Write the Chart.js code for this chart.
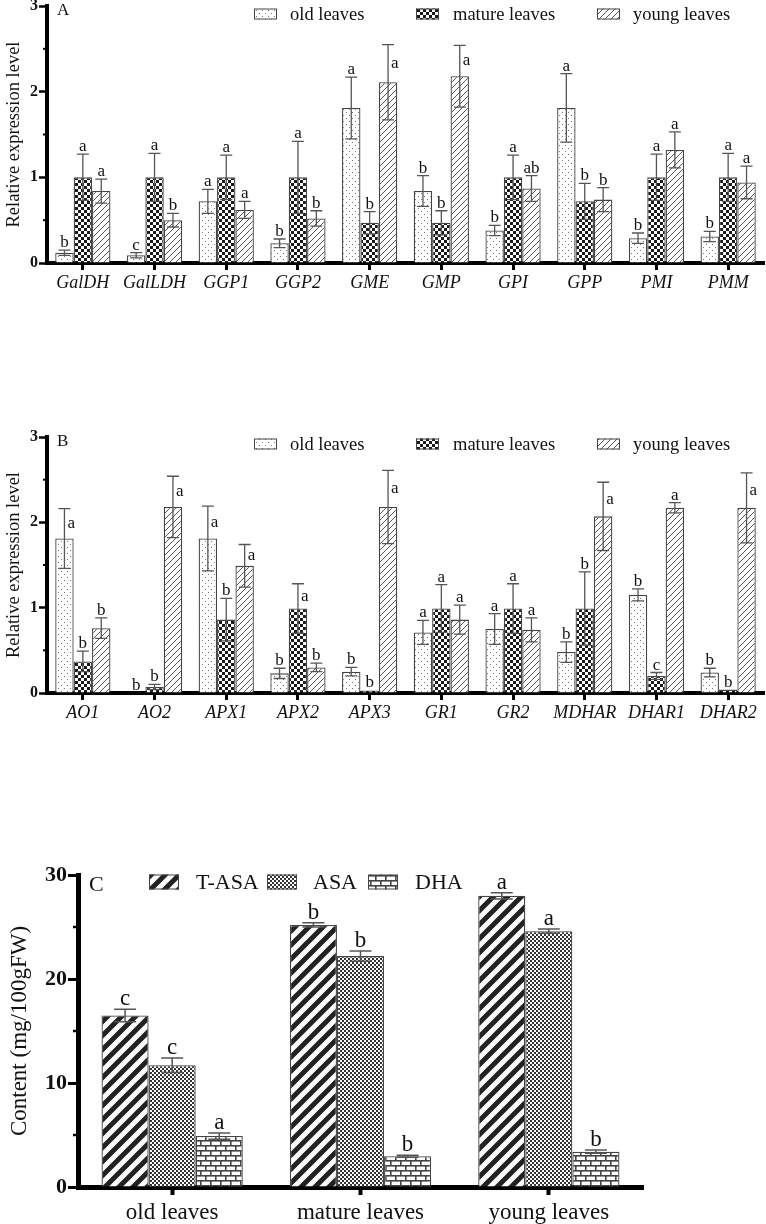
<!DOCTYPE html>
<html>
<head>
<meta charset="utf-8">
<script src="https://cdn.jsdelivr.net/npm/chart.js@4.4.0/dist/chart.umd.min.js"></script>
<style>
    body { margin: 0; background: #fff; width: 766px; height: 1224px; position: relative; overflow: hidden; }
    canvas { position: absolute; left: 0; }
</style>
</head>
<body>
<canvas id="chartA" width="766" height="300" style="top:0px"></canvas>
<canvas id="chartB" width="766" height="310" style="top:420px"></canvas>
<canvas id="chartC" width="766" height="394" style="top:830px"></canvas>
<script>
// ---- du lieu panel A ----
const genesA = ['GalDH', 'GalLDH', 'GGP1', 'GGP2', 'GME', 'GMP', 'GPI', 'GPP', 'PMI', 'PMM'];
const oldA = [0.12, 0.09, 0.72, 0.23, 1.81, 0.84, 0.38, 1.81, 0.29, 0.31];
const oldAErr = [0.03, 0.03, 0.14, 0.05, 0.36, 0.18, 0.06, 0.40, 0.06, 0.06];
const oldALetters = ['b', 'c', 'a', 'b', 'a', 'b', 'b', 'a', 'b', 'b'];
const matureA = [1.0, 1.0, 1.0, 1.0, 0.47, 0.47, 1.0, 0.72, 1.0, 1.0];
const matureAErr = [0.27, 0.28, 0.26, 0.42, 0.13, 0.14, 0.26, 0.21, 0.27, 0.28];
const matureALetters = ['a', 'a', 'a', 'a', 'b', 'b', 'a', 'b', 'a', 'a'];
const youngA = [0.84, 0.50, 0.62, 0.52, 2.11, 2.18, 0.87, 0.74, 1.32, 0.94];
const youngAErr = [0.14, 0.08, 0.10, 0.09, 0.44, 0.36, 0.15, 0.14, 0.21, 0.19];
const youngALetters = ['a', 'b', 'a', 'b', 'a', 'a', 'ab', 'b', 'a', 'a'];

// ---- du lieu panel B ----
const genesB = ['AO1', 'AO2', 'APX1', 'APX2', 'APX3', 'GR1', 'GR2', 'MDHAR', 'DHAR1', 'DHAR2'];
const oldB = [1.81, 0.0, 1.81, 0.23, 0.25, 0.71, 0.75, 0.48, 1.15, 0.24];
const oldBErr = [0.35, 0.0, 0.38, 0.06, 0.05, 0.14, 0.18, 0.12, 0.07, 0.05];
const oldBLetters = ['a', 'b', 'a', 'b', 'b', 'a', 'a', 'b', 'b', 'b'];
const matureB = [0.37, 0.07, 0.86, 0.99, 0.03, 0.99, 0.99, 0.99, 0.20, 0.04];
const matureBErr = [0.12, 0.03, 0.25, 0.29, 0.0, 0.28, 0.29, 0.43, 0.04, 0.0];
const matureBLetters = ['b', 'b', 'b', 'a', 'b', 'a', 'a', 'b', 'c', 'b'];
const youngB = [0.76, 2.18, 1.49, 0.30, 2.18, 0.86, 0.74, 2.07, 2.17, 2.17];
const youngBErr = [0.12, 0.36, 0.25, 0.05, 0.43, 0.17, 0.14, 0.40, 0.06, 0.41];
const youngBLetters = ['b', 'a', 'a', 'b', 'a', 'a', 'a', 'a', 'a', 'a'];

// ---- du lieu panel C ----
const groupsC = ['old leaves', 'mature leaves', 'young leaves'];
const tasaC = [16.5, 25.2, 28.0];
const tasaCErr = [0.6, 0.2, 0.3];
const tasaCLetters = ['c', 'b', 'a'];
const asaC = [11.7, 22.2, 24.6];
const asaCErr = [0.7, 0.5, 0.2];
const asaCLetters = ['c', 'b', 'a'];
const dhaC = [4.9, 2.95, 3.4];
const dhaCErr = [0.3, 0.1, 0.15];
const dhaCLetters = ['a', 'b', 'b'];

// tick labels
const ticksAB = [0, 1, 2, 3];
const minorAB = [0.5, 1.5, 2.5];
const ticksC = [0, 10, 20, 30];
const minorC = [5, 15, 25];

const FONT = '"Liberation Serif", "Times New Roman", serif';
Chart.defaults.font.family = FONT;

// vi tri chu cai dat ben phai thanh sai so
const sideOldA = [0, 0, 0, 0, 0, 0, 0, 0, 0, 0];
const sideMatureA = [0, 0, 0, 0, 0, 0, 0, 0, 0, 0];
const sideYoungA = [0, 0, 0, 0, 1, 1, 0, 0, 0, 0];
const sideOldB = [1, 0, 1, 0, 0, 0, 0, 0, 0, 0];
const sideMatureB = [0, 0, 0, 1, 0, 0, 0, 0, 0, 0];
const sideYoungB = [0, 1, 1, 0, 1, 0, 0, 1, 0, 1];
const sideC = [0, 0, 0];

// ---- hoa van ----
const helperCtx = document.createElement('canvas').getContext('2d');
function makePattern(w, h, draw) {
    const c = document.createElement('canvas');
    c.width = w; c.height = h;
    const g = c.getContext('2d');
    g.fillStyle = '#fff';
    g.fillRect(0, 0, w, h);
    draw(g, w, h);
    return helperCtx.createPattern(c, 'repeat');
}
const dotPattern = makePattern(6, 6, (g) => {
    g.fillStyle = '#777';
    g.fillRect(1, 1, 1, 1);
    g.fillRect(4, 4, 1, 1);
});
const checkPattern = makePattern(6, 6, (g) => {
    g.fillStyle = '#1a1a1a';
    g.fillRect(0, 0, 3, 3);
    g.fillRect(3, 3, 3, 3);
});
const hatchPattern = makePattern(6, 6, (g) => {
    g.strokeStyle = '#555';
    g.lineWidth = 1;
    g.beginPath();
    g.moveTo(0, 6); g.lineTo(6, 0);
    g.moveTo(-1, 1); g.lineTo(1, -1);
    g.moveTo(5, 7); g.lineTo(7, 5);
    g.stroke();
});
const stripePattern = makePattern(14, 14, (g) => {
    g.strokeStyle = '#222';
    g.lineWidth = 5;
    g.beginPath();
    g.moveTo(0, 14); g.lineTo(14, 0);
    g.moveTo(-7, 7); g.lineTo(7, -7);
    g.moveTo(7, 21); g.lineTo(21, 7);
    g.stroke();
});
const fineCheckPattern = makePattern(4, 4, (g) => {
    g.fillStyle = '#333';
    g.fillRect(0, 0, 2, 2);
    g.fillRect(2, 2, 2, 2);
});
const brickPattern = makePattern(10, 10, (g) => {
    g.fillStyle = '#444';
    g.fillRect(0, 0, 10, 1.6);
    g.fillRect(0, 5, 10, 1.6);
    g.fillRect(0, 0, 1.6, 5);
    g.fillRect(5, 5, 1.6, 5);
});

// ---- thanh sai so + chu cai ----
const errorBarPlugin = {
    id: 'errbars',
    afterDatasetsDraw(chart, args, opts) {
        const ctx = chart.ctx;
        const y = chart.scales.y;
        ctx.save();
        chart.data.datasets.forEach((ds, i) => {
            const meta = chart.getDatasetMeta(i);
            meta.data.forEach((bar, j) => {
                const v = ds.data[j];
                const e = ds.errors[j];
                const yt = y.getPixelForValue(v + e);
                const yb = y.getPixelForValue(Math.max(v - e, 0));
                if (e > 0) {
                    ctx.strokeStyle = '#555';
                    ctx.lineWidth = opts.lineWidth;
                    ctx.beginPath();
                    ctx.moveTo(bar.x, yt); ctx.lineTo(bar.x, yb);
                    ctx.moveTo(bar.x - opts.cap, yt); ctx.lineTo(bar.x + opts.cap, yt);
                    ctx.moveTo(bar.x - opts.cap, yb); ctx.lineTo(bar.x + opts.cap, yb);
                    ctx.stroke();
                }
                ctx.fillStyle = '#111';
                ctx.font = opts.font;
                if (ds.sides[j]) {
                    ctx.textAlign = 'left';
                    ctx.textBaseline = 'middle';
                    ctx.fillText(ds.letters[j], bar.x + 3, y.getPixelForValue(v + e / 2));
                } else {
                    ctx.textAlign = 'center';
                    ctx.textBaseline = 'alphabetic';
                    ctx.fillText(ds.letters[j], bar.x, yt - opts.gap);
                }
            });
        });
        ctx.restore();
    }
};

// ---- chu thich, nhan panel, vach phu ----
const decorPlugin = {
    id: 'decor',
    afterDraw(chart, args, opts) {
        const ctx = chart.ctx;
        const y = chart.scales.y;
        const left = chart.chartArea.left;
        ctx.save();
        ctx.strokeStyle = '#000';
        ctx.lineWidth = opts.minorWidth;
        opts.minor.forEach(v => {
            const py = y.getPixelForValue(v);
            ctx.beginPath();
            ctx.moveTo(left, py);
            ctx.lineTo(left - opts.minorLen, py);
            ctx.stroke();
        });
        ctx.fillStyle = '#111';
        ctx.font = opts.panelFont;
        ctx.textAlign = 'left';
        ctx.textBaseline = 'middle';
        ctx.fillText(opts.panel, opts.panelX, opts.panelY);
        chart.data.datasets.forEach((ds, i) => {
            const bx = opts.boxX[i];
            const by = opts.legendY - opts.boxH / 2;
            ctx.fillStyle = ds.backgroundColor;
            ctx.fillRect(bx, by, opts.boxW, opts.boxH);
            ctx.strokeStyle = '#444';
            ctx.lineWidth = 1;
            ctx.strokeRect(bx + 0.5, by + 0.5, opts.boxW - 1, opts.boxH - 1);
            ctx.fillStyle = '#111';
            ctx.font = opts.legendFont;
            ctx.fillText(ds.label, opts.textX[i], opts.legendY + 1);
        });
        ctx.restore();
    }
};

function series(label, data, errors, letters, sides, pattern, catPct) {
    return {
        label: label,
        data: data,
        errors: errors,
        letters: letters,
        sides: sides,
        backgroundColor: pattern,
        borderColor: '#444',
        borderWidth: 1.3,
        borderSkipped: 'start',
        barPercentage: 1,
        categoryPercentage: catPct
    };
}

function buildChart(id, c) {
    return new Chart(document.getElementById(id), {
        type: 'bar',
        data: { labels: c.labels, datasets: c.datasets },
        options: {
            responsive: false,
            animation: false,
            layout: { padding: { top: c.top, right: c.right, left: 0, bottom: 0 } },
            plugins: {
                legend: { display: false },
                tooltip: { enabled: false },
                errbars: c.err,
                decor: c.decor
            },
            scales: {
                x: {
                    grid: { drawOnChartArea: false, offset: false, tickLength: c.xTickLen, tickWidth: c.xTickWidth, tickColor: '#000' },
                    border: { width: c.axisWidth, color: '#000' },
                    ticks: { font: c.xFont, color: '#111', padding: c.xPad, maxRotation: 0, autoSkip: false },
                    afterFit: s => { s.height = c.xHeight; s.paddingLeft = 0; s.paddingRight = 0; }
                },
                y: {
                    min: c.ticks[0],
                    max: c.ticks[c.ticks.length - 1],
                    afterBuildTicks: s => { s.ticks = c.ticks.map(v => ({ value: v })); },
                    ticks: { font: c.yFont, color: '#111', padding: 1 },
                    grid: { drawOnChartArea: false, tickLength: c.yTickLen, tickWidth: c.yTickWidth, tickColor: '#000' },
                    border: { width: c.axisWidth, color: '#000' },
                    title: { display: true, text: c.yTitle, font: c.titleFont, color: '#111', padding: { top: c.titlePad, bottom: 0 } },
                    afterFit: s => { s.width = c.yWidth; s.paddingTop = 0; s.paddingBottom = 0; }
                }
            }
        },
        plugins: [errorBarPlugin, decorPlugin]
    });
}

const geneOpts = {
    right: 2,
    xHeight: 37,
    xTickLen: 7, xTickWidth: 3, xPad: 2,
    xFont: { size: 18, style: 'italic' },
    yFont: { size: 16, weight: 'bold' },
    yTickLen: 8, yTickWidth: 2.5,
    axisWidth: 4,
    ticks: ticksAB,
    yTitle: 'Relative expression level',
    titleFont: { size: 18.5 },
    titlePad: 3,
    yWidth: 47,
    err: { lineWidth: 1.3, cap: 6, gap: 3, font: '17px ' + FONT }
};
const geneDecor = {
    minor: minorAB, minorLen: 4, minorWidth: 2,
    panelFont: '17px ' + FONT, panelX: 57,
    boxX: [254, 416, 597], textX: [290, 453, 633],
    boxW: 23, boxH: 11,
    legendFont: '18.5px ' + FONT
};

buildChart('chartA', Object.assign({}, geneOpts, {
    labels: genesA,
    top: 6,
    datasets: [
        series('old leaves', oldA, oldAErr, oldALetters, sideOldA, dotPattern, 0.77),
        series('mature leaves', matureA, matureAErr, matureALetters, sideMatureA, checkPattern, 0.77),
        series('young leaves', youngA, youngAErr, youngALetters, sideYoungA, hatchPattern, 0.77)
    ],
    decor: Object.assign({}, geneDecor, { panel: 'A', panelY: 11, legendY: 14 })
}));

buildChart('chartB', Object.assign({}, geneOpts, {
    labels: genesB,
    top: 17,
    datasets: [
        series('old leaves', oldB, oldBErr, oldBLetters, sideOldB, dotPattern, 0.77),
        series('mature leaves', matureB, matureBErr, matureBLetters, sideMatureB, checkPattern, 0.77),
        series('young leaves', youngB, youngBErr, youngBLetters, sideYoungB, hatchPattern, 0.77)
    ],
    decor: Object.assign({}, geneDecor, { panel: 'B', panelY: 22, legendY: 24 })
}));

buildChart('chartC', {
    labels: groupsC,
    top: 45,
    right: 123,
    xHeight: 37,
    xTickLen: 8, xTickWidth: 4, xPad: 4,
    xFont: { size: 23 },
    yFont: { size: 22, weight: 'bold' },
    yTickLen: 10, yTickWidth: 3,
    axisWidth: 5,
    ticks: ticksC,
    yTitle: 'Content (mg/100gFW)',
    titleFont: { size: 23 },
    titlePad: 6,
    yWidth: 78,
    err: { lineWidth: 1.5, cap: 11, gap: 4, font: '23px ' + FONT },
    datasets: [
        series('T-ASA', tasaC, tasaCErr, tasaCLetters, sideC, stripePattern, 0.75),
        series('ASA', asaC, asaCErr, asaCLetters, sideC, fineCheckPattern, 0.75),
        series('DHA', dhaC, dhaCErr, dhaCLetters, sideC, brickPattern, 0.75)
    ],
    decor: {
        minor: minorC, minorLen: 5, minorWidth: 2.5,
        panel: 'C', panelFont: '22px ' + FONT, panelX: 89, panelY: 55,
        boxX: [149, 267, 368], textX: [196, 313, 415],
        boxW: 30, boxH: 15, legendY: 52,
        legendFont: '22px ' + FONT
    }
});
</script>
</body>
</html>
